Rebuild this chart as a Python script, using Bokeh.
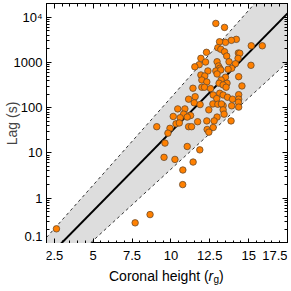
import numpy as np
from bokeh.plotting import figure
from bokeh.layouts import column
from bokeh.models import FixedTicker, LinearAxis, LogAxis, Range1d, ColumnDataSource
from bokeh.core.properties import value
from bokeh.embed import file_html
from bokeh.resources import INLINE

# ---- data ----
height_rg = [
    12.89, 13.45, 14.21, 13.89, 13.51, 13.13, 15.17, 15.88, 13.02, 13.21,
    12.29, 13.45, 14.34, 14.43, 13.59, 11.93, 14.32, 12.97, 12.23, 13.74,
    14.15, 11.82, 11.54, 15.15, 13.06, 13.14, 13.91, 13.68, 12.38, 12.89,
    13.21, 11.93, 12.97, 12.18, 13.51, 14.36, 11.99, 12.31, 13.23, 13.10,
    13.61, 13.36, 14.57, 11.99, 12.16, 12.55, 11.42, 13.55, 13.14, 13.36,
    12.72, 11.56, 14.36, 13.64, 11.14, 14.36, 13.96, 12.95, 11.50, 14.34,
    12.70, 13.02, 13.36, 13.25, 13.91, 14.36, 10.44, 10.90, 11.88, 12.44,
    13.36, 10.82, 13.42, 11.18, 11.27, 10.15, 12.97, 10.60, 11.05, 12.31,
    12.78, 13.87, 10.33, 10.54, 9.09, 11.14, 11.33, 11.72, 9.94, 12.33,
    12.72, 9.81, 12.44, 9.62, 11.05, 11.86, 9.56, 10.26, 11.43, 10.77,
    10.76, 8.66, 2.64, 7.70,
]
lag_s = [
    7260, 5930, 3230, 3070, 2770, 2860, 2330, 2330, 2110, 1950,
    1670, 1720, 1610, 1590, 1380, 1230, 1230, 1035, 1020, 1035,
    935, 890, 800, 863, 834, 741, 741, 705, 647, 647,
    681, 527, 555, 501, 470, 484, 409, 370, 409, 347,
    347, 318, 302, 283, 283, 264, 269, 283, 208, 191,
    191, 175, 194, 170, 154, 154, 154, 159, 128, 132,
    121, 119, 111, 121, 110, 103, 94, 94, 117, 89.5,
    89.5, 72, 72, 67, 67, 64, 62, 60, 62, 51,
    51, 51, 44, 46, 38, 38, 38, 49, 35, 33,
    36.5, 27.4, 28.8, 16.5, 13.9, 11.7, 8.0, 7.2, 6.3, 4.2,
    2.0, 0.435, 0.211, 0.286,
]

# fit: log10(lag) = slope * h + intercept
fit_slope, fit_intercept = 0.349, -2.026
upper_slope, upper_intercept = 0.386, -1.64
lower_slope, lower_intercept = 0.315, -2.51

x_min, x_max = 2.0, 17.5
y_min, y_max = 0.1, 2.0e4

x_ticks = [2.5, 5, 7.5, 10, 12.5, 15, 17.5]
x_tick_labels = ["2.5", "5", "7.5", "10", "12.5", "15", "17.5"]
y_ticks = [0.1, 1, 10, 100, 1000, 10000]
y_tick_labels = ["0.1", "1", "10", "100", "1000", "10\u2074"]
x_title_parts = ["Coronal height (", "r", "g", ")"]
y_title = "Lag (s)"

FONT = "Liberation Sans"
FRAME_W, FRAME_H = 241, 240
LEFT, RIGHT = 46, 3

xr = Range1d(x_min, x_max)

# ---- main figure ----
p = figure(frame_width=FRAME_W, frame_height=FRAME_H, x_range=xr,
           y_range=Range1d(y_min, y_max), y_axis_type="log",
           output_backend="svg", toolbar_location=None,
           min_border_left=LEFT, min_border_right=RIGHT, min_border_top=3,
           min_border_bottom=0)
p.grid.visible = False
p.outline_line_color = "black"
p.outline_line_width = 1

h_line = np.array([x_min, x_max])
fit_line = 10 ** (fit_slope * h_line + fit_intercept)
upper_line = 10 ** (upper_slope * h_line + upper_intercept)
lower_line = 10 ** (lower_slope * h_line + lower_intercept)

p.varea(x=h_line, y1=lower_line, y2=upper_line, fill_color="#dddddd")
p.line(h_line, upper_line, line_color="#333333", line_width=1, line_dash="3 3")
p.line(h_line, lower_line, line_color="#333333", line_width=1, line_dash="3 3")
p.line(h_line, fit_line, line_color="black", line_width=2)

src = ColumnDataSource(dict(h=height_rg, lag=lag_s))
p.scatter("h", "lag", source=src, size=6.5, fill_color="#ff8000",
          line_color="#6b4a2b", line_width=0.8)

x_minor = list(np.arange(x_min, x_max + 0.01, 0.5))
y_minor = [k * 10.0 ** n for n in range(-1, 5) for k in range(1, 10)]
xticker = FixedTicker(ticks=x_ticks, minor_ticks=x_minor)
yticker = FixedTicker(ticks=y_ticks, minor_ticks=y_minor)


def style(ax, labels=True):
    ax.axis_line_color = "black"
    ax.major_tick_line_color = "black"
    ax.minor_tick_line_color = "black"
    ax.major_tick_in = 5
    ax.major_tick_out = 0
    ax.minor_tick_in = 3
    ax.minor_tick_out = 0
    ax.major_label_text_font = FONT
    if labels:
        ax.major_label_text_font_size = "13px"
        ax.major_label_text_color = "black"
    else:
        ax.major_label_text_font_size = "1px"
        ax.major_label_text_color = None
        ax.major_label_standoff = 0


style(p.xaxis[0], labels=False)
p.xaxis[0].ticker = xticker

ya = p.yaxis[0]
ya.ticker = yticker
style(ya)
ya.major_label_overrides = {t: l for t, l in zip(y_ticks, y_tick_labels)}
ya.major_label_standoff = 4
ya.axis_label = y_title
ya.axis_label_text_font = FONT
ya.axis_label_text_font_style = "normal"
ya.axis_label_text_font_size = "14px"
ya.axis_label_standoff = -9

top = LinearAxis(ticker=xticker)
style(top, labels=False)
p.add_layout(top, "above")

right = LogAxis(ticker=yticker)
style(right, labels=False)
p.add_layout(right, "right")

# ---- strip below: x tick labels and x title, on the shared x scale ----
LAB_H = 45
q = figure(frame_width=FRAME_W, frame_height=LAB_H, x_range=xr,
           y_range=Range1d(-LAB_H, 0), output_backend="svg",
           toolbar_location=None, min_border_left=LEFT,
           min_border_right=RIGHT, min_border_top=0, min_border_bottom=0)
q.axis.visible = False
q.grid.visible = False
q.outline_line_color = None

aligns = ["center"] * (len(x_ticks) - 1) + ["right"]
q.text(x=x_ticks, y=[-12] * len(x_ticks), text=x_tick_labels,
       text_align=aligns, text_baseline="middle", text_font=value(FONT),
       text_font_size="13px", text_color="black")

xc = (x_min + x_max) / 2
widths = [99.6, 4.9, 5.6, 4.7]
styles = ["normal", "italic", "normal", "normal"]
sizes = ["14px", "14px", "10px", "14px"]
dys = [0, 0, -4, 0]
off = -58
for txt, st, sz, dy, w in zip(x_title_parts, styles, sizes, dys, widths):
    q.text(x=[xc], y=[-32 + dy], text=[txt], x_offset=off,
           text_align="left", text_baseline="middle", text_font=value(FONT),
           text_font_style=st, text_font_size=sz, text_color="black")
    off += w

layout = column(p, q, spacing=0)
open("out.html", "w").write(file_html(layout, INLINE))
